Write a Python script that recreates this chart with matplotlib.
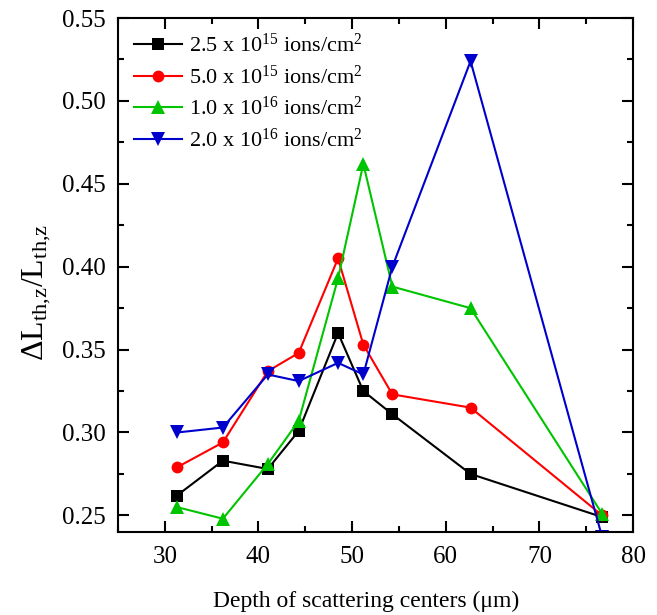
import numpy as np
import matplotlib
matplotlib.use("Agg")
import matplotlib.pyplot as plt
from matplotlib.ticker import MultipleLocator

plt.rcParams["font.family"] = ["Liberation Serif", "DejaVu Serif"]
plt.rcParams["mathtext.fontset"] = "custom"
plt.rcParams["mathtext.rm"] = "Liberation Serif"
plt.rcParams["mathtext.it"] = "Liberation Serif:italic"
plt.rcParams["mathtext.bf"] = "Liberation Serif:bold"

# ── data ─────────────────────────────────────────────────
depth = [31.3, 36.2, 41.0, 44.3, 48.5, 51.2, 54.3, 62.65, 76.7]

dose_25e15 = [0.262, 0.283, 0.278, 0.301, 0.360, 0.325, 0.311, 0.275, 0.249]
dose_50e15 = [0.279, 0.294, 0.337, 0.348, 0.405, 0.353, 0.323, 0.315, 0.250]
dose_10e16 = [0.255, 0.248, 0.281, 0.307, 0.393, 0.462, 0.388, 0.375, 0.251]
dose_20e16 = [0.300, 0.303, 0.335, 0.331, 0.342, 0.335, 0.400, 0.524, 0.237]

labels = [
    "2.5 x 10$^{15}$ ions/cm$^{2}$",
    "5.0 x 10$^{15}$ ions/cm$^{2}$",
    "1.0 x 10$^{16}$ ions/cm$^{2}$",
    "2.0 x 10$^{16}$ ions/cm$^{2}$",
]

STYLE = [
    dict(color="black",   marker="s", ms=8.0),
    dict(color="#FF0000", marker="o", ms=8.5),
    dict(color="#00C400", marker="^", ms=9.5),
    dict(color="#0000CC", marker="v", ms=9.5),
]

fig = plt.figure(figsize=(6.57, 6.15), dpi=100)
ax = fig.add_axes([0.1796, 0.135, 0.7839, 0.8357])

for ys, lab, st in zip([dose_25e15, dose_50e15, dose_10e16, dose_20e16], labels, STYLE):
    ax.plot(depth, ys, color=st["color"], marker=st["marker"], ms=st["ms"],
            lw=1.5, label=lab, markeredgewidth=0)

ax.set_xlim(25, 80)
ax.set_ylim(0.24, 0.55)
ax.xaxis.set_major_locator(MultipleLocator(10))
ax.xaxis.set_minor_locator(MultipleLocator(5))
ax.yaxis.set_major_locator(MultipleLocator(0.05))
ax.yaxis.set_minor_locator(MultipleLocator(0.025))
ax.yaxis.set_major_formatter(matplotlib.ticker.FormatStrFormatter("%.2f"))

ax.tick_params(which="both", direction="in", top=True, right=True, width=1.5)
ax.tick_params(which="major", length=8, labelsize=18)
ax.tick_params(axis="x", which="major", pad=10)
ax.tick_params(axis="y", which="major", pad=9)
ax.tick_params(which="minor", length=4.5)
for sp in ax.spines.values():
    sp.set_linewidth(1.5)

ax.set_xlabel("Depth of scattering centers (\u03bcm)", fontsize=17)
ax.xaxis.set_label_coords(0.482, -0.115)
ax.set_ylabel("\u0394L$_{\\rm th{,}z}$/L$_{\\rm th{,}z}$", fontsize=23)
ax.yaxis.set_label_coords(-0.126, 0.467)

ax.legend(loc="upper left", frameon=False, fontsize=16, handlelength=2.2,
          handletextpad=0.3, labelspacing=0.38, borderaxespad=0.3)

fig.savefig("out.png", dpi=100)
